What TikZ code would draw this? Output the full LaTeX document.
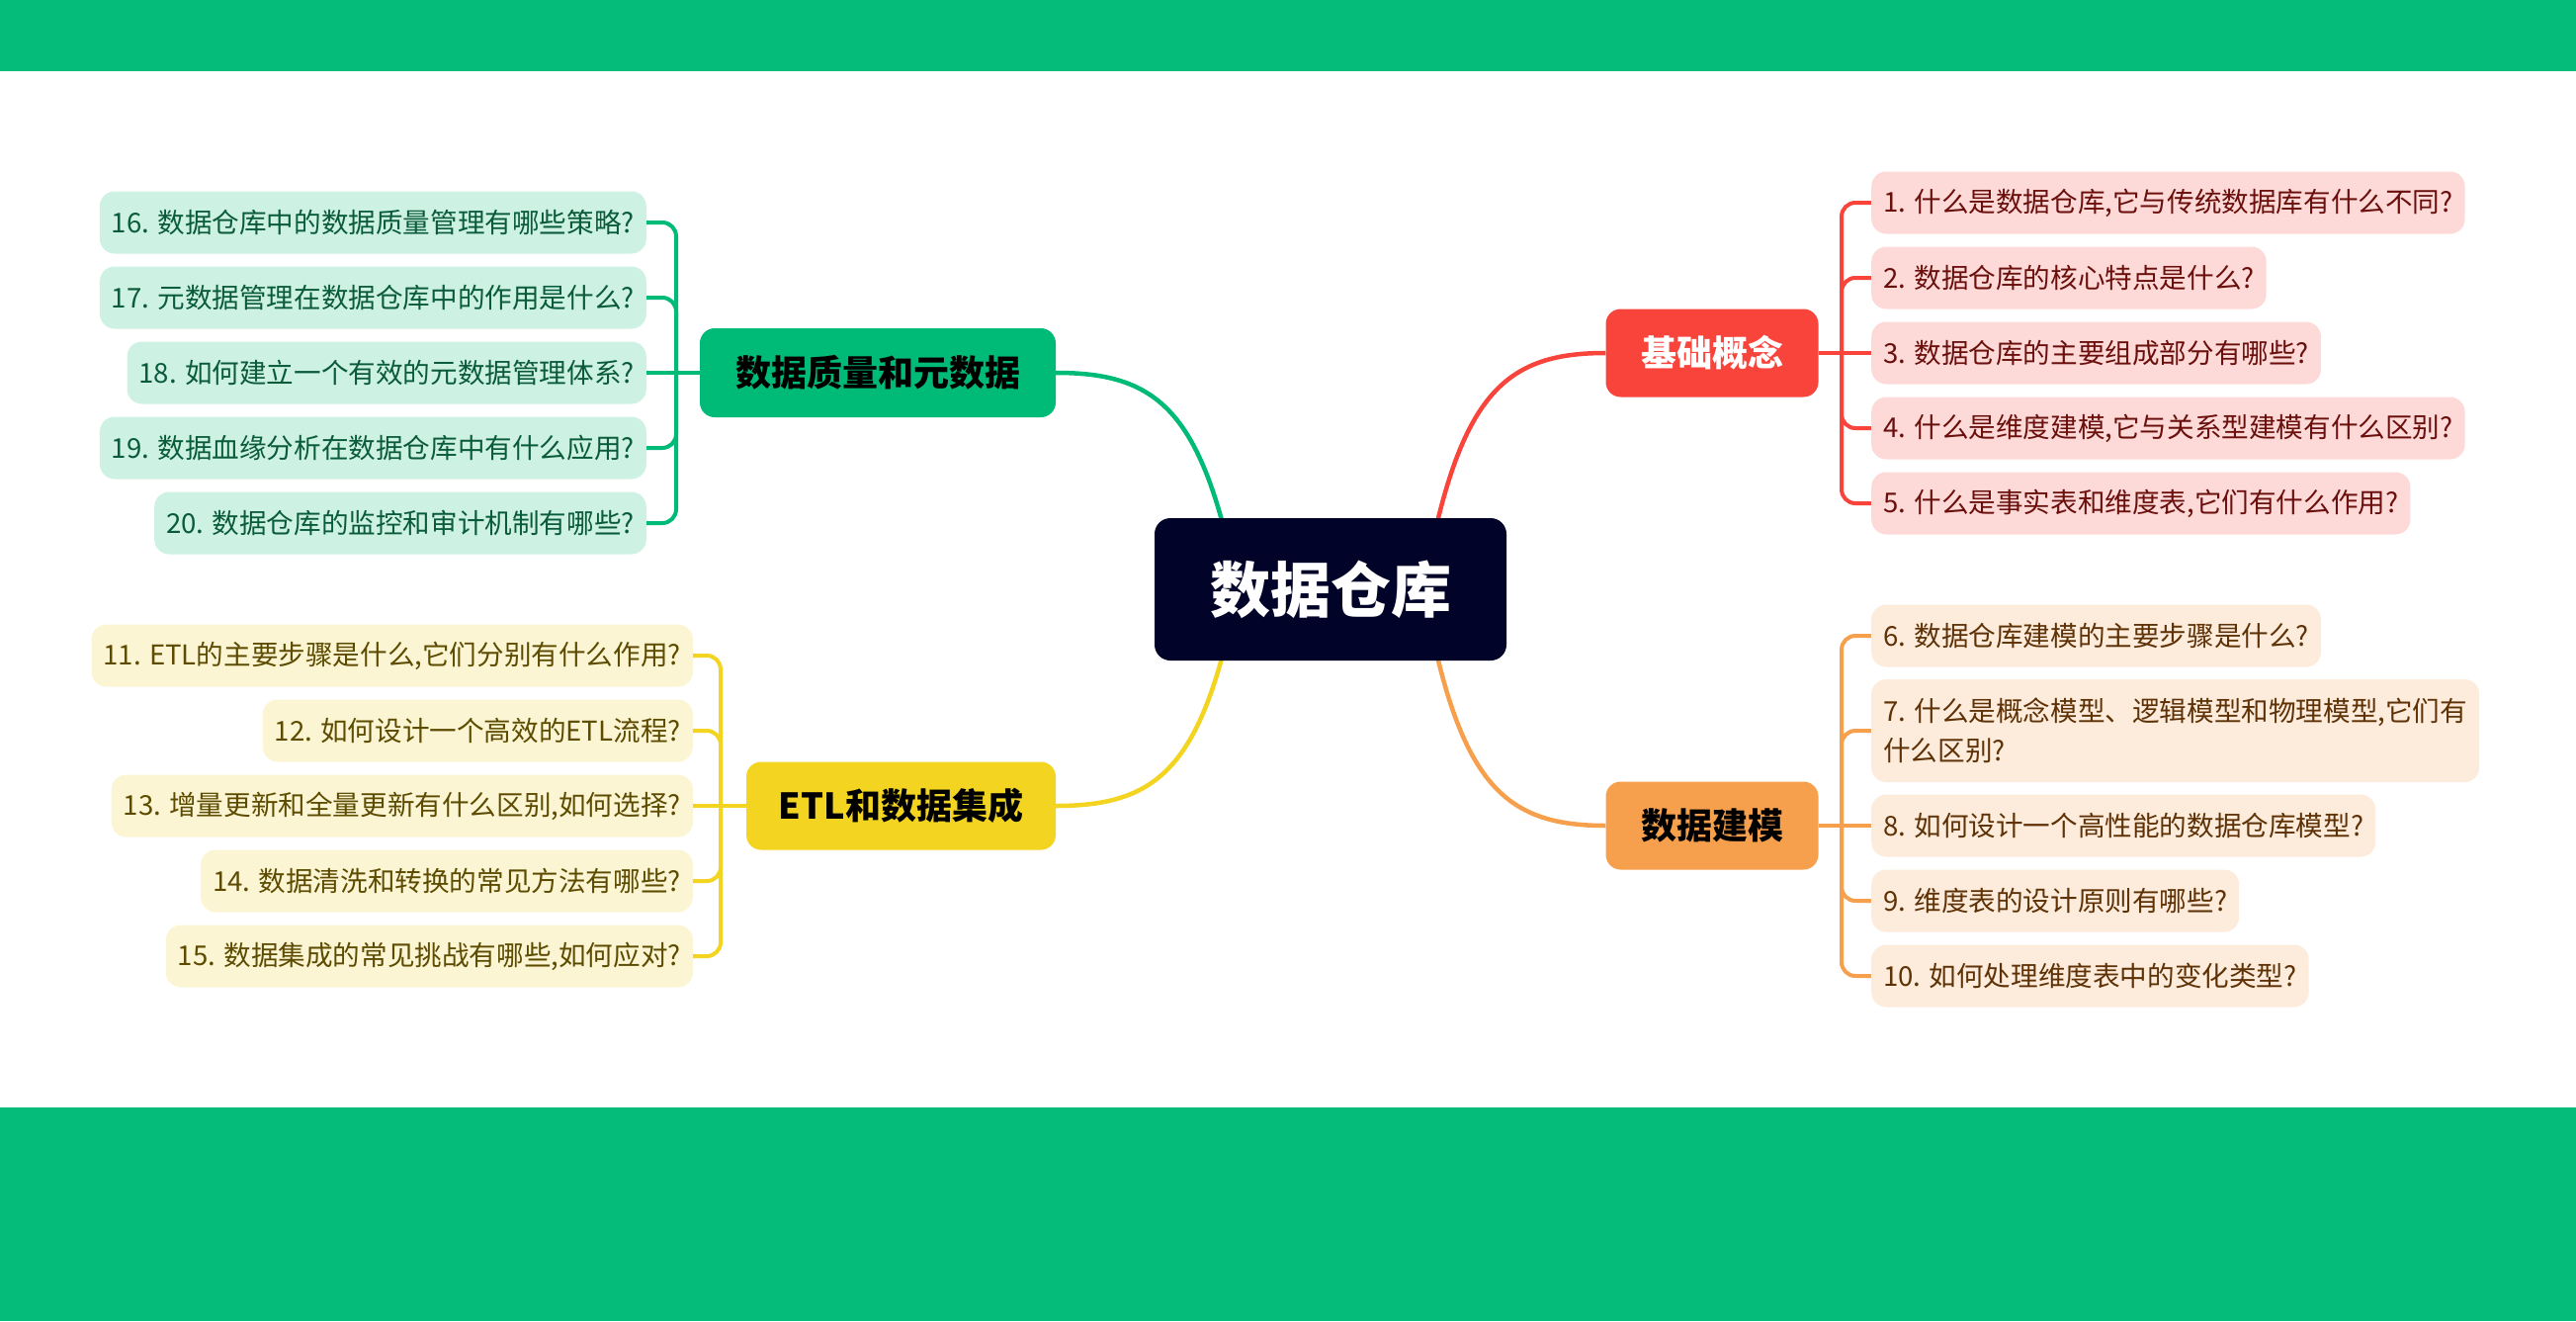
\documentclass[tikz,border=0pt]{standalone}
\usepackage{fontspec}
\setmainfont{Noto Sans CJK SC}
\usetikzlibrary{backgrounds}
\definecolor{band}{HTML}{05BC7B}
\definecolor{navy}{HTML}{020328}
\definecolor{cred}{HTML}{F9443C}
\definecolor{corange}{HTML}{F6A04D}
\definecolor{cyellow}{HTML}{F2D421}
\definecolor{cgreen}{HTML}{00BA78}
\definecolor{fred}{HTML}{FDDAD8}
\definecolor{tred}{HTML}{6A0F0C}
\definecolor{forange}{HTML}{FDEBDB}
\definecolor{torange}{HTML}{5E3206}
\definecolor{fgreen}{HTML}{CDF1E3}
\definecolor{tgreen}{HTML}{0A5B3B}
\definecolor{fyellow}{HTML}{FCF5D3}
\definecolor{tyellow}{HTML}{5C4B00}
\begin{document}
\begin{tikzpicture}[x=1pt,y=-1pt,
  leafbox/.style={rounded corners=15pt, inner xsep=12pt, inner ysep=0pt,
    minimum height=63pt, font=\fontsize{27.6}{40}\selectfont},
  rleaf/.style={leafbox, anchor=west},
  lleaf/.style={leafbox, anchor=east},
  redleaf/.style={rleaf, fill=fred, text=tred},
  orangeleaf/.style={rleaf, fill=forange, text=torange},
  greenleaf/.style={lleaf, fill=fgreen, text=tgreen},
  yellowleaf/.style={lleaf, fill=fyellow, text=tyellow},
  branchbox/.style={rounded corners=15pt, inner sep=0pt, minimum height=89pt,
    font=\fontsize{36}{36}\bfseries\selectfont},
  conn/.style={line width=4.5pt},
  brk/.style={line width=4pt, rounded corners=14pt}
]
\useasboundingbox (0,0) rectangle (2606,1336);
\fill[band] (0,0) rectangle (2606,72);
\fill[band] (0,1120) rectangle (2606,1336);

% central
\node[fill=navy, text=white, rounded corners=16pt, minimum width=356pt, minimum height=144pt,
  inner sep=0pt, font=\fontsize{61}{61}\bfseries\selectfont] (c) at (1346,596) {数据仓库};

% branches
\node[branchbox, fill=cred, text=white, minimum width=215pt] (b1) at (1732,357) {基础概念};
\node[branchbox, fill=corange, text=black, minimum width=215pt] (b2) at (1732,835) {数据建模};
\node[branchbox, fill=cyellow, text=black, minimum width=313pt] (b3) at (911.5,815) {ETL和数据集成};
\node[branchbox, fill=cgreen, text=black, minimum width=360pt, minimum height=90pt] (b4) at (888,377) {数据质量和元数据};

% red leaves
\node[redleaf] (l1) at (1893,205) {1. 什么是数据仓库,它与传统数据库有什么不同?};
\node[redleaf] (l2) at (1893,281) {2. 数据仓库的核心特点是什么?};
\node[redleaf] (l3) at (1893,357) {3. 数据仓库的主要组成部分有哪些?};
\node[redleaf] (l4) at (1893,433) {4. 什么是维度建模,它与关系型建模有什么区别?};
\node[redleaf] (l5) at (1893,509) {5. 什么是事实表和维度表,它们有什么作用?};

% orange leaves
\node[orangeleaf] (l6) at (1893,643) {6. 数据仓库建模的主要步骤是什么?};
\node[orangeleaf, minimum height=104pt, align=left] (l7) at (1893,739) {7. 什么是概念模型、逻辑模型和物理模型,它们有\\什么区别?};
\node[orangeleaf] (l8) at (1893,835) {8. 如何设计一个高性能的数据仓库模型?};
\node[orangeleaf] (l9) at (1893,911) {9. 维度表的设计原则有哪些?};
\node[orangeleaf] (l10) at (1893,987) {10. 如何处理维度表中的变化类型?};

% yellow leaves
\node[yellowleaf] (l11) at (701,663) {11. ETL的主要步骤是什么,它们分别有什么作用?};
\node[yellowleaf] (l12) at (701,739) {12. 如何设计一个高效的ETL流程?};
\node[yellowleaf] (l13) at (701,815) {13. 增量更新和全量更新有什么区别,如何选择?};
\node[yellowleaf] (l14) at (701,891) {14. 数据清洗和转换的常见方法有哪些?};
\node[yellowleaf] (l15) at (701,967) {15. 数据集成的常见挑战有哪些,如何应对?};

% green leaves
\node[greenleaf] (l16) at (654,225) {16. 数据仓库中的数据质量管理有哪些策略?};
\node[greenleaf] (l17) at (654,301) {17. 元数据管理在数据仓库中的作用是什么?};
\node[greenleaf] (l18) at (654,377) {18. 如何建立一个有效的元数据管理体系?};
\node[greenleaf] (l19) at (654,453) {19. 数据血缘分析在数据仓库中有什么应用?};
\node[greenleaf] (l20) at (654,529) {20. 数据仓库的监控和审计机制有哪些?};

\coordinate (jr1) at (1863,357);
\coordinate (jr2) at (1863,835);
\coordinate (jl3) at (729,815);
\coordinate (jl4) at (684,377);

\begin{pgfonlayer}{background}
% main connectors
\draw[conn, cred] ([xshift=94pt]c.center) .. controls (1475,400) and (1520,357) .. (b1.west);
\draw[conn, corange] ([xshift=94pt]c.center) .. controls (1475,792) and (1520,835) .. (b2.west);
\draw[conn, cgreen] ([xshift=-94pt]c.center) .. controls (1217,416) and (1172,377) .. (b4.east);
\draw[conn, cyellow] ([xshift=-94pt]c.center) .. controls (1217,776) and (1172,815) .. (b3.east);

% red bracket
\draw[brk, cred] (b1.east) -- (l3.west);
\draw[brk, cred] (jr1) |- (l1.west);
\draw[brk, cred] (jr1) |- (l2.west);
\draw[brk, cred] (jr1) |- (l4.west);
\draw[brk, cred] (jr1) |- (l5.west);
% orange bracket
\draw[brk, corange] (b2.east) -- (l8.west);
\draw[brk, corange] (jr2) |- (l6.west);
\draw[brk, corange] (jr2) |- (l7.west);
\draw[brk, corange] (jr2) |- (l9.west);
\draw[brk, corange] (jr2) |- (l10.west);
% yellow bracket
\draw[brk, cyellow] (b3.west) -- (l13.east);
\draw[brk, cyellow] (jl3) |- (l11.east);
\draw[brk, cyellow] (jl3) |- (l12.east);
\draw[brk, cyellow] (jl3) |- (l14.east);
\draw[brk, cyellow] (jl3) |- (l15.east);
% green bracket
\draw[brk, cgreen] (b4.west) -- (l18.east);
\draw[brk, cgreen] (jl4) |- (l16.east);
\draw[brk, cgreen] (jl4) |- (l17.east);
\draw[brk, cgreen] (jl4) |- (l19.east);
\draw[brk, cgreen] (jl4) |- (l20.east);
\end{pgfonlayer}
\end{tikzpicture}
\end{document}
